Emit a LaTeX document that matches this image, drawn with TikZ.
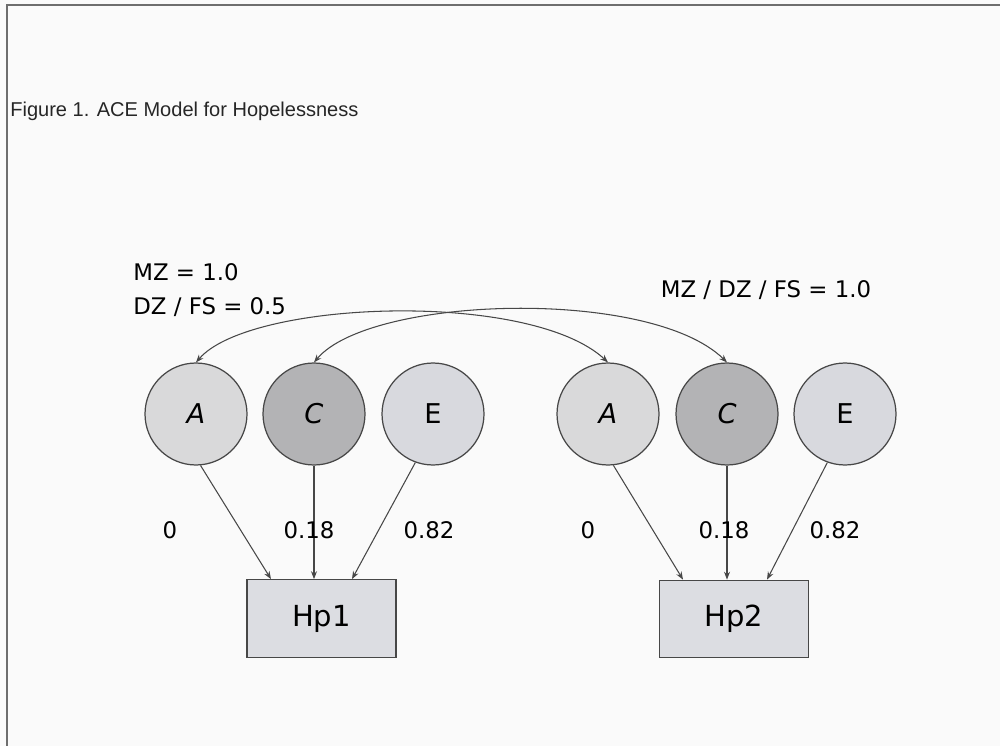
\documentclass[tikz,border=0pt]{standalone}
\usepackage{fontspec}
\setmainfont{Liberation Sans}
\newfontfamily\comic{DejaVu Sans}
\usetikzlibrary{arrows.meta,calc}
\definecolor{lineC}{HTML}{474747}
\definecolor{frameC}{HTML}{6E6E6E}
\definecolor{fillA}{HTML}{D9D9DA}
\definecolor{fillC}{HTML}{B3B3B5}
\definecolor{fillE}{HTML}{D8D9DE}
\definecolor{fillBox}{HTML}{DCDDE2}
\begin{document}
\begin{tikzpicture}[x=0.02cm,y=-0.02cm,
  factor/.style={circle,draw=lineC,line width=0.7pt,minimum size=2.04cm,inner sep=0pt,
    font=\comic\fontsize{15.5}{18}\selectfont},
  pheno/.style={rectangle,draw=lineC,line width=0.7pt,fill=fillBox,minimum width=2.98cm,
    minimum height=1.55cm,inner sep=0pt,font=\comic\fontsize{16.5}{19}\selectfont},
  path/.style={draw=lineC,line width=0.6pt,-{Stealth[length=4.5pt,width=3.4pt]}},
  corr/.style={draw=lineC,line width=0.6pt,{Stealth[length=4.5pt,width=3.4pt]}-{Stealth[length=4.5pt,width=3.4pt]}},
  lbl/.style={font=\comic\fontsize{13}{15}\selectfont,inner sep=0pt},
  title/.style={font=\fontsize{11.4}{13}\selectfont,inner sep=0pt,text=black!85}]
\useasboundingbox (0,0) rectangle (1000,746);
\fill[white!98!black] (0,0) rectangle (1000,746);
% frame
\draw[frameC,line width=1.3pt] (7,746) -- (7,5) -- (1000,5);
% title
\node[title,anchor=west] (ttl) at (10,111) {Figure 1. ACE Model for Hopelessness};
% factors twin 1
\node[factor,fill=fillA] (A1) at (196,414) {\itshape A};
\node[factor,fill=fillC] (C1) at (314,414) {\itshape C};
\node[factor,fill=fillE] (E1) at (433,414) {E};
% factors twin 2
\node[factor,fill=fillA] (A2) at (608,414) {\itshape A};
\node[factor,fill=fillC] (C2) at (727,414) {\itshape C};
\node[factor,fill=fillE] (E2) at (845,414) {E};
% phenotypes
\node[pheno] (H1) at (321.5,618.5) {Hp1};
\node[pheno] (H2) at (734,619) {Hp2};
% paths
\draw[path] (A1.-85) -- ([xshift=-1.01cm]H1.north);
\draw[path] (C1.south) -- (C1.south |- H1.north);
\draw[path] (E1.-110) -- ([xshift=0.61cm]H1.north);
\draw[path] (A2.-84) -- ([xshift=-1.02cm]H2.north);
\draw[path] (C2.south) -- (C2.south |- H2.north);
\draw[path] (E2.-110) -- ([xshift=0.66cm]H2.north);
% path labels
\node[lbl] (l1) at (170,530) {0};
\node[lbl] (l2) at (309,530) {0.18};
\node[lbl] (l3) at (429,530) {0.82};
\node[lbl] (l4) at (588,530) {0};
\node[lbl] (l5) at (724,530) {0.18};
\node[lbl] (l6) at (835,530) {0.82};
% correlations
\draw[corr] (A1.north) .. controls (250,300) and (530,290) .. (A2.north);
\draw[corr] (C1.north) .. controls (370,296) and (650,287) .. (C2.north);
% correlation labels
\node[lbl,anchor=west,align=left] (cA) at (133,290) {MZ = 1.0\\[4pt]DZ / FS = 0.5};
\node[lbl] (cC) at (766,290) {MZ / DZ / FS = 1.0};
\end{tikzpicture}
\end{document}
